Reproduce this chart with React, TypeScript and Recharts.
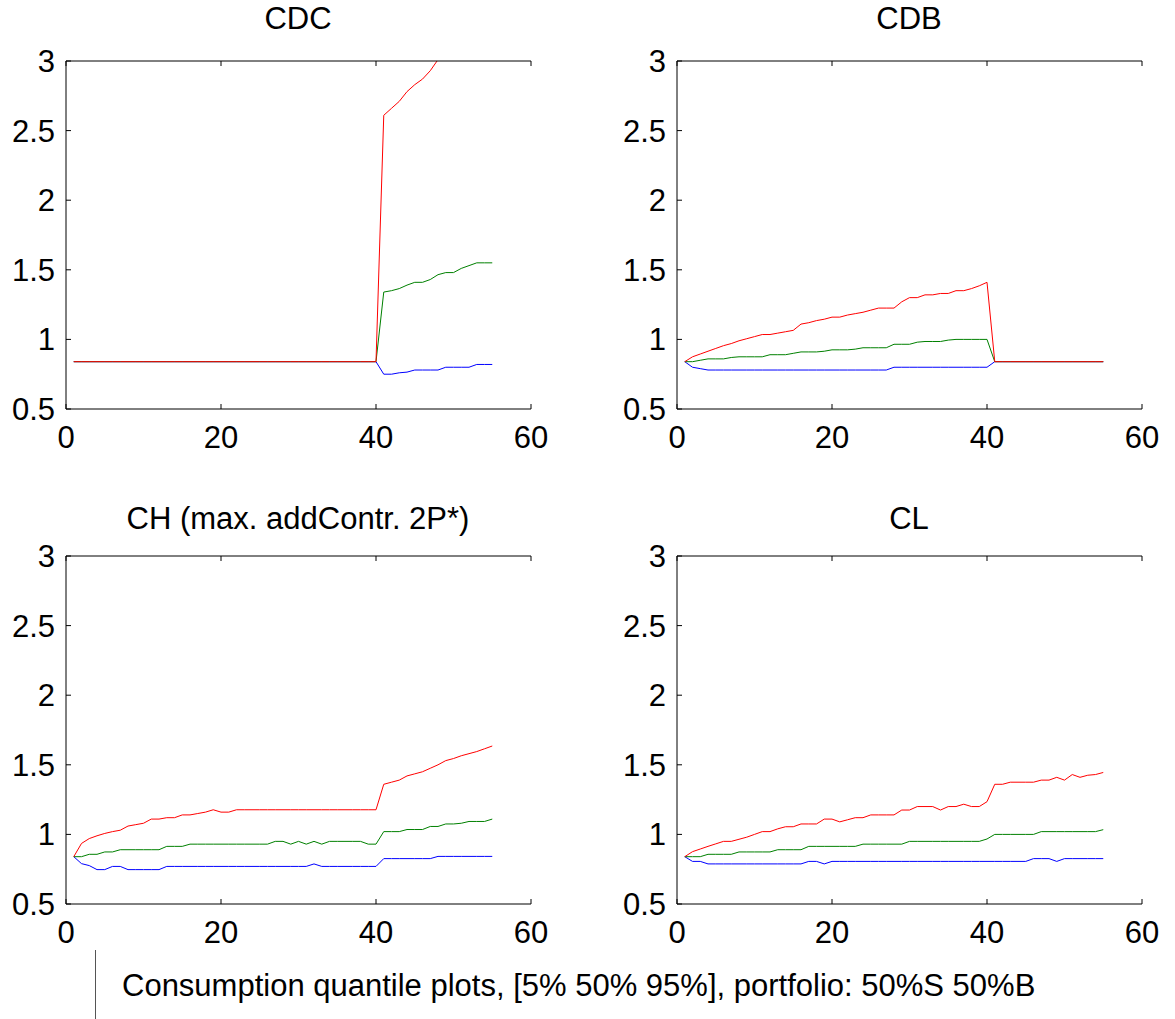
import React from 'react'
import { LineChart, Line, XAxis, YAxis } from 'recharts'

const FONT = '"Liberation Sans", Arial, Helvetica, sans-serif'
const FONT_SIZE = 31
const TICK_LEN = 5

// period index on the x axis (1..55)
const periods = Array.from({ length: 55 }, (_, i) => i + 1)
const xTicks = [0, 20, 40, 60]
const yTicks = [0.5, 1, 1.5, 2, 2.5, 3]

// CDC: 5% / 50% / 95% quantiles
const cdcLow = [
  0.84, 0.84, 0.84, 0.84, 0.84, 0.84, 0.84, 0.84, 0.84, 0.84,
  0.84, 0.84, 0.84, 0.84, 0.84, 0.84, 0.84, 0.84, 0.84, 0.84,
  0.84, 0.84, 0.84, 0.84, 0.84, 0.84, 0.84, 0.84, 0.84, 0.84,
  0.84, 0.84, 0.84, 0.84, 0.84, 0.84, 0.84, 0.84, 0.84, 0.84,
  0.75, 0.75, 0.76, 0.765, 0.78, 0.78, 0.78, 0.78, 0.8, 0.8,
  0.8, 0.8, 0.82, 0.82, 0.82,
]
const cdcMid = [
  0.84, 0.84, 0.84, 0.84, 0.84, 0.84, 0.84, 0.84, 0.84, 0.84,
  0.84, 0.84, 0.84, 0.84, 0.84, 0.84, 0.84, 0.84, 0.84, 0.84,
  0.84, 0.84, 0.84, 0.84, 0.84, 0.84, 0.84, 0.84, 0.84, 0.84,
  0.84, 0.84, 0.84, 0.84, 0.84, 0.84, 0.84, 0.84, 0.84, 0.84,
  1.34, 1.35, 1.365, 1.39, 1.41, 1.41, 1.43, 1.465, 1.48, 1.48,
  1.51, 1.53, 1.55, 1.55, 1.55,
]
const cdcHigh = [
  0.84, 0.84, 0.84, 0.84, 0.84, 0.84, 0.84, 0.84, 0.84, 0.84,
  0.84, 0.84, 0.84, 0.84, 0.84, 0.84, 0.84, 0.84, 0.84, 0.84,
  0.84, 0.84, 0.84, 0.84, 0.84, 0.84, 0.84, 0.84, 0.84, 0.84,
  0.84, 0.84, 0.84, 0.84, 0.84, 0.84, 0.84, 0.84, 0.84, 0.84,
  2.61, 2.66, 2.71, 2.78, 2.83, 2.87, 2.93, 3.01, 3.07, 3.12,
  3.18, 3.23, 3.28, 3.31, 3.35,
]

// CDB
const cdbLow = [
  0.84, 0.8, 0.79, 0.78, 0.78, 0.78, 0.78, 0.78, 0.78, 0.78,
  0.78, 0.78, 0.78, 0.78, 0.78, 0.78, 0.78, 0.78, 0.78, 0.78,
  0.78, 0.78, 0.78, 0.78, 0.78, 0.78, 0.78, 0.8, 0.8, 0.8,
  0.8, 0.8, 0.8, 0.8, 0.8, 0.8, 0.8, 0.8, 0.8, 0.8,
  0.84, 0.84, 0.84, 0.84, 0.84, 0.84, 0.84, 0.84, 0.84, 0.84,
  0.84, 0.84, 0.84, 0.84, 0.84,
]
const cdbMid = [
  0.84, 0.84, 0.85, 0.86, 0.86, 0.86, 0.87, 0.875, 0.875, 0.875,
  0.875, 0.89, 0.89, 0.89, 0.9, 0.91, 0.91, 0.91, 0.915, 0.925,
  0.925, 0.925, 0.93, 0.94, 0.94, 0.94, 0.94, 0.965, 0.965, 0.965,
  0.98, 0.985, 0.985, 0.985, 0.995, 1.0, 1.0, 1.0, 1.0, 1.0,
  0.84, 0.84, 0.84, 0.84, 0.84, 0.84, 0.84, 0.84, 0.84, 0.84,
  0.84, 0.84, 0.84, 0.84, 0.84,
]
const cdbHigh = [
  0.84, 0.875, 0.895, 0.915, 0.935, 0.955, 0.97, 0.99, 1.005, 1.02,
  1.035, 1.035, 1.045, 1.055, 1.065, 1.11, 1.12, 1.135, 1.145, 1.16,
  1.16, 1.175, 1.185, 1.195, 1.21, 1.225, 1.225, 1.225, 1.27, 1.3,
  1.3, 1.32, 1.32, 1.33, 1.33, 1.35, 1.35, 1.365, 1.385, 1.41,
  0.84, 0.84, 0.84, 0.84, 0.84, 0.84, 0.84, 0.84, 0.84, 0.84,
  0.84, 0.84, 0.84, 0.84, 0.84,
]

// CH (max. addContr. 2P*)
const chLow = [
  0.84, 0.79, 0.776, 0.747, 0.747, 0.77, 0.77, 0.747, 0.747, 0.747,
  0.747, 0.747, 0.77, 0.77, 0.77, 0.77, 0.77, 0.77, 0.77, 0.77,
  0.77, 0.77, 0.77, 0.77, 0.77, 0.77, 0.77, 0.77, 0.77, 0.77,
  0.77, 0.788, 0.77, 0.77, 0.77, 0.77, 0.77, 0.77, 0.77, 0.77,
  0.826, 0.826, 0.826, 0.826, 0.826, 0.826, 0.826, 0.842, 0.842, 0.842,
  0.842, 0.842, 0.842, 0.842, 0.842,
]
const chMid = [
  0.84, 0.84, 0.857, 0.857, 0.874, 0.874, 0.89, 0.89, 0.89, 0.89,
  0.89, 0.89, 0.914, 0.914, 0.914, 0.93, 0.93, 0.93, 0.93, 0.93,
  0.93, 0.93, 0.93, 0.93, 0.93, 0.93, 0.95, 0.95, 0.93, 0.95,
  0.93, 0.95, 0.93, 0.95, 0.95, 0.95, 0.95, 0.95, 0.93, 0.93,
  1.02, 1.02, 1.02, 1.035, 1.035, 1.035, 1.057, 1.057, 1.075, 1.075,
  1.08, 1.093, 1.093, 1.093, 1.11,
]
const chHigh = [
  0.84, 0.935, 0.97, 0.99, 1.007, 1.02, 1.03, 1.06, 1.07, 1.08,
  1.11, 1.11, 1.12, 1.12, 1.14, 1.14, 1.15, 1.16, 1.177, 1.16,
  1.16, 1.177, 1.177, 1.177, 1.177, 1.177, 1.177, 1.177, 1.177, 1.177,
  1.177, 1.177, 1.177, 1.177, 1.177, 1.177, 1.177, 1.177, 1.177, 1.177,
  1.36, 1.375, 1.39, 1.42, 1.435, 1.45, 1.475, 1.5, 1.53, 1.545,
  1.565, 1.58, 1.595, 1.615, 1.635,
]

// CL
const clLow = [
  0.84, 0.806, 0.806, 0.788, 0.788, 0.788, 0.788, 0.788, 0.788, 0.788,
  0.788, 0.788, 0.788, 0.788, 0.788, 0.788, 0.806, 0.806, 0.788, 0.806,
  0.806, 0.806, 0.806, 0.806, 0.806, 0.806, 0.806, 0.806, 0.806, 0.806,
  0.806, 0.806, 0.806, 0.806, 0.806, 0.806, 0.806, 0.806, 0.806, 0.806,
  0.806, 0.806, 0.806, 0.806, 0.806, 0.826, 0.826, 0.826, 0.806, 0.826,
  0.826, 0.826, 0.826, 0.826, 0.826,
]
const clMid = [
  0.84, 0.84, 0.84, 0.857, 0.857, 0.857, 0.857, 0.874, 0.874, 0.874,
  0.874, 0.874, 0.89, 0.89, 0.89, 0.89, 0.914, 0.914, 0.914, 0.914,
  0.914, 0.914, 0.914, 0.93, 0.93, 0.93, 0.93, 0.93, 0.93, 0.95,
  0.95, 0.95, 0.95, 0.95, 0.95, 0.95, 0.95, 0.95, 0.95, 0.967,
  1.0, 1.0, 1.0, 1.0, 1.0, 1.0, 1.02, 1.02, 1.02, 1.02,
  1.02, 1.02, 1.02, 1.02, 1.034,
]
const clHigh = [
  0.84, 0.876, 0.895, 0.914, 0.932, 0.95, 0.95, 0.965, 0.98, 1.0,
  1.02, 1.02, 1.04, 1.055, 1.055, 1.075, 1.075, 1.075, 1.11, 1.11,
  1.09, 1.105, 1.12, 1.12, 1.14, 1.14, 1.14, 1.14, 1.175, 1.175,
  1.2, 1.2, 1.2, 1.175, 1.2, 1.2, 1.217, 1.2, 1.2, 1.235,
  1.36, 1.36, 1.375, 1.375, 1.375, 1.375, 1.39, 1.39, 1.41, 1.39,
  1.43, 1.41, 1.425, 1.43, 1.445,
]

const textStyle = { fontFamily: FONT, fontSize: FONT_SIZE, fill: '#000' }

// MATLAB-style ticks: marks point inward, labels outside
const BottomTick = (props: any) => {
  const { x, y, payload } = props
  return (
    <g>
      <line x1={x} x2={x} y1={y} y2={y - TICK_LEN} stroke="#000" />
      <text x={x} y={y + 39} textAnchor="middle" {...textStyle}>{payload.value}</text>
    </g>
  )
}

const TopTick = (props: any) => {
  const { x, y } = props
  return <line x1={x} x2={x} y1={y} y2={y + TICK_LEN} stroke="#000" />
}

const LeftTick = (props: any) => {
  const { x, y, payload } = props
  return (
    <g>
      <line x1={x} x2={x + TICK_LEN} y1={y} y2={y} stroke="#000" />
      <text x={x - 11} y={y + 11} textAnchor="end" {...textStyle}>{payload.value}</text>
    </g>
  )
}

const RightTick = (props: any) => {
  const { x, y } = props
  return <line x1={x} x2={x - TICK_LEN} y1={y} y2={y} stroke="#000" />
}

interface PanelProps {
  left: number
  top: number
  low: number[]
  mid: number[]
  high: number[]
}

const PLOT_W = 465
const PLOT_H = 348

const QuantilePanel = ({ left, top, low, mid, high }: PanelProps) => {
  const data = periods.map((t, i) => ({ t, low: low[i], mid: mid[i], high: high[i] }))
  return (
    <div style={{ position: 'absolute', left: left - 66, top: top - 61 }}>
      <LineChart
        width={66 + PLOT_W + 40}
        height={61 + PLOT_H + 50}
        data={data}
        margin={{ top: 60, right: 40, bottom: 0, left: 0 }}
      >
        <XAxis
          dataKey="t"
          type="number"
          domain={[0, 60]}
          ticks={xTicks}
          interval={0}
          allowDataOverflow
          height={50}
          tickSize={0}
          tickMargin={0}
          axisLine={{ stroke: '#000' }}
          tick={(p: any) => <BottomTick {...p} />}
        />
        <XAxis
          xAxisId="top"
          dataKey="t"
          orientation="top"
          type="number"
          domain={[0, 60]}
          ticks={xTicks}
          interval={0}
          allowDataOverflow
          height={1}
          tickSize={0}
          tickMargin={0}
          axisLine={{ stroke: '#000' }}
          tick={(p: any) => <TopTick {...p} />}
        />
        <YAxis
          type="number"
          domain={[0.5, 3]}
          ticks={yTicks}
          interval={0}
          allowDataOverflow
          width={66}
          tickSize={0}
          tickMargin={0}
          axisLine={{ stroke: '#000' }}
          tick={(p: any) => <LeftTick {...p} />}
        />
        <YAxis
          yAxisId="right"
          orientation="right"
          type="number"
          domain={[0.5, 3]}
          ticks={yTicks}
          interval={0}
          allowDataOverflow
          width={0}
          tickSize={0}
          tickMargin={0}
          axisLine={false}
          tick={(p: any) => <RightTick {...p} />}
        />
        <Line type="linear" dataKey="low" stroke="#0000ff" strokeWidth={1} dot={false} isAnimationActive={false} />
        <Line type="linear" dataKey="mid" stroke="#008000" strokeWidth={1} dot={false} isAnimationActive={false} />
        <Line type="linear" dataKey="high" stroke="#ff0000" strokeWidth={1} dot={false} isAnimationActive={false} />
      </LineChart>
    </div>
  )
}

const titles = [
  { text: 'CDC', x: 298, y: 29 },
  { text: 'CDB', x: 909, y: 29 },
  { text: 'CH (max. addContr. 2P*)', x: 298, y: 529 },
  { text: 'CL', x: 909, y: 529 },
]

export default function App() {
  return (
    <div style={{ position: 'absolute', left: 0, top: 0, width: 1175, height: 1019, background: '#fff', overflow: 'hidden' }}>
      <QuantilePanel left={66} top={61} low={cdcLow} mid={cdcMid} high={cdcHigh} />
      <QuantilePanel left={677} top={61} low={cdbLow} mid={cdbMid} high={cdbHigh} />
      <QuantilePanel left={66} top={556} low={chLow} mid={chMid} high={chHigh} />
      <QuantilePanel left={677} top={556} low={clLow} mid={clMid} high={clHigh} />
      <svg width={1175} height={1019} style={{ position: 'absolute', left: 0, top: 0, pointerEvents: 'none' }}>
        {titles.map((t) => (
          <text key={t.text} x={t.x} y={t.y} textAnchor="middle" {...textStyle}>{t.text}</text>
        ))}
        <line x1={95.5} x2={95.5} y1={950} y2={1019} stroke="#555" strokeWidth={1} />
        <text x={122} y={996} {...textStyle}>Consumption quantile plots, [5% 50% 95%], portfolio: 50%S 50%B</text>
      </svg>
    </div>
  )
}
